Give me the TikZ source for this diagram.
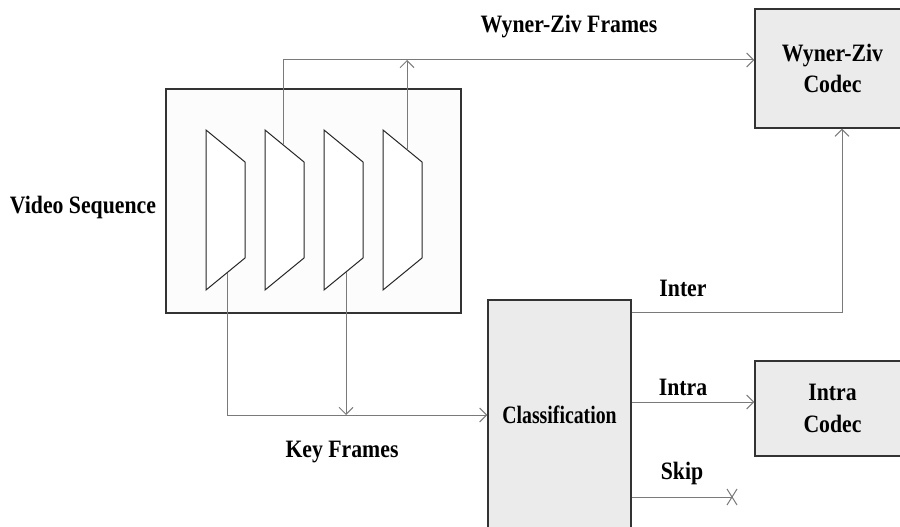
\documentclass[tikz,border=0pt]{standalone}
\usepackage{fontspec}
\newfontfamily\lblfont{Liberation Serif}[FakeStretch=0.87]
\usetikzlibrary{arrows.meta}
\definecolor{boxfill}{HTML}{EBEBEB}
\definecolor{edge}{HTML}{333333}
\definecolor{wire}{HTML}{7A7A7A}

\begin{document}
\begin{tikzpicture}[x=0.75pt,y=-0.75pt,
  lbl/.style={font=\lblfont\bfseries\fontsize{18.75pt}{23.5pt}\selectfont, inner sep=0pt},
  block/.style={draw=edge, fill=boxfill, line width=0.9pt, inner sep=0pt, align=center, lbl},
  conn/.style={draw=wire, line width=0.75pt},
  arr/.style={conn, -{Straight Barb[length=5.25pt,width=10.5pt]}},
  frameshape/.style={draw=black!85, line width=0.75pt, fill=white}
]
\useasboundingbox (0,0) rectangle (900,527);

% codec and classification blocks
\node[block, minimum width=116.25pt, minimum height=89.25pt] (wz) at (832.5,68.5) {Wyner-Ziv\\Codec};
\node[block, minimum width=116.25pt, minimum height=71.25pt] (intra) at (832.5,408.5) {Intra\\Codec};
\node[block, minimum width=107.25pt, minimum height=172.5pt] (cls) at (559.5,415)
  {\scalebox{0.91}[1]{Classification}};

% video sequence container
\node[draw=edge, fill=white!99!black, line width=0.9pt, minimum width=221.25pt,
      minimum height=168pt, inner sep=0pt] (video) at (313.5,201) {};

% the four frames
\foreach \x in {206,265,324,383}
  \draw[frameshape] (\x,130) -- (\x+39,162) -- (\x+39,258) -- (\x,290) -- cycle;

\coordinate (f2top) at (283,144.8);
\coordinate (f4top) at (407,149.7);
\coordinate (f1bot) at (227,272.8);
\coordinate (f3bot) at (346,272);

% labels
\node[lbl, anchor=base] (wzf) at (569,33) {Wyner-Ziv Frames};
\node[lbl, anchor=base] (vs) at (83,214) {Video Sequence};
\node[lbl, anchor=base] (kf) at (342,457) {Key Frames};
\node[lbl, anchor=base] (inter) at (683,297) {Inter};
\node[lbl, anchor=base] (intral) at (683,395) {Intra};
\node[lbl, anchor=base] (skip) at (682,479) {Skip};

% Wyner-Ziv frames path
\coordinate (wzin) at ([yshift=6.375pt]wz.west);
\draw[arr] (f2top) |- (wzin);
\draw[arr] (f4top) -- (f4top |- wzin);

% key frames path
\draw[arr] (f1bot) |- (cls.west);
\draw[arr] (f3bot) -- (f3bot |- cls.west);

% classification outputs
\coordinate (interout) at ([yshift=-9.75pt]cls.north east);
\coordinate (interin) at ([xshift=7.125pt]wz.south);
\draw[arr] (interout) -| (interin);

\coordinate (intrain) at ([yshift=4.875pt]intra.west);
\draw[arr] (cls.east |- intrain) -- (intrain);

\coordinate (skipend) at (732,497);
\draw[conn] (cls.east |- skipend) -- (skipend);
\draw[conn] ([shift={(-5,-8)}]skipend) -- ([shift={(5,8)}]skipend);
\draw[conn] ([shift={(5,-8)}]skipend) -- ([shift={(-5,8)}]skipend);
\end{tikzpicture}
\end{document}
